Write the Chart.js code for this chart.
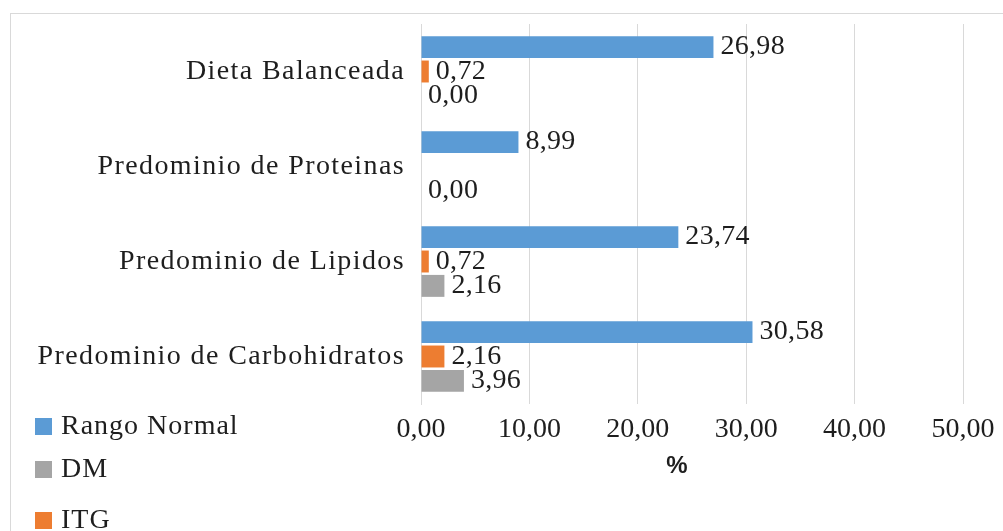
<!DOCTYPE html>
<html><head><meta charset="utf-8">
<script src="https://cdn.jsdelivr.net/npm/chart.js@4.4.1/dist/chart.umd.min.js"></script>
<style>
html,body{margin:0;padding:0;background:#fff;overflow:hidden;width:1003px;height:531px;}
#frame{position:absolute;left:10px;top:13px;width:1200px;height:800px;border:1px solid #d9d9d9;}
#wrap{position:absolute;left:0;top:0;width:1003px;height:531px;}
</style></head><body>
<div id="frame"></div>
<div id="wrap"><canvas id="c"></canvas></div>
<script>
const categories = ['Dieta Balanceada', 'Predominio de Proteinas', 'Predominio de Lipidos', 'Predominio de Carbohidratos'];
const seriesNames = ['Rango Normal', 'ITG', 'DM'];
const rangoNormal = [26.98, 8.99, 23.74, 30.58];
const itg = [0.72, null, 0.72, 2.16];
const dm = [0.00, 0.00, 2.16, 3.96];
const xTicks = [0, 10, 20, 30, 40, 50];
const axisTitle = '%';
const colors = ['#5b9bd5', '#ed7d31', '#a5a5a5'];
const legendOrder = [0, 2, 1];

const fmt = v => Number(v).toFixed(2).replace('.', ',');
const SERIF = "'Liberation Serif','Times New Roman',serif";
const TXT = '#1e1e1e';

const customPlugin = {
  id: 'custom',
  beforeDraw(chart) {
    chart.ctx.letterSpacing = '1.4px';
  },
  beforeDatasetsDraw(chart) {
    chart.ctx.letterSpacing = '0px';
  },
  afterDatasetsDraw(chart) {
    const ctx = chart.ctx;
    ctx.save();
    ctx.letterSpacing = '0.3px';
    ctx.font = '28px ' + SERIF;
    ctx.fillStyle = TXT;
    ctx.textBaseline = 'middle';
    ctx.textAlign = 'left';
    chart.data.datasets.forEach((ds, i) => {
      const meta = chart.getDatasetMeta(i);
      meta.data.forEach((el, j) => {
        const v = ds.data[j];
        if (v === null || v === undefined) return;
        ctx.fillText(fmt(v), el.x + 7, el.y);
      });
    });
    ctx.letterSpacing = '1px';
    const ys = [427, 470, 521];
    legendOrder.forEach((di, k) => {
      const ds = chart.data.datasets[di];
      ctx.fillStyle = ds.backgroundColor;
      ctx.fillRect(35, ys[k] - 9, 17, 17);
      ctx.fillStyle = TXT;
      ctx.fillText(ds.label, 61, ys[k]);
    });
    ctx.letterSpacing = '0px';
    const xs = chart.scales.x;
    ctx.font = 'bold 24px "Liberation Sans", Arial, sans-serif';
    ctx.textAlign = 'center';
    ctx.fillText(axisTitle, (xs.left + xs.right) / 2 - 15, 466);
    ctx.restore();
  }
};

new Chart(document.getElementById('c'), {
  type: 'bar',
  data: {
    labels: categories,
    datasets: [
      { label: seriesNames[0], data: rangoNormal, backgroundColor: colors[0] },
      { label: seriesNames[1], data: itg, backgroundColor: colors[1] },
      { label: seriesNames[2], data: dm, backgroundColor: colors[2] }
    ]
  },
  options: {
    indexAxis: 'y',
    responsive: true,
    maintainAspectRatio: false,
    animation: false,
    datasets: { bar: { categoryPercentage: 0.77, barPercentage: 0.9 } },
    layout: { padding: { left: 0, right: 40, top: 24, bottom: 0 } },
    plugins: { legend: { display: false }, tooltip: { enabled: false } },
    scales: {
      x: {
        min: 0, max: 50,
        afterBuildTicks(s) { s.ticks = xTicks.map(v => ({ value: v })); },
        ticks: { callback: v => fmt(v), font: { family: SERIF, size: 28 }, color: TXT, padding: 9, maxRotation: 0, z: 1 },
        grid: { color: '#d9d9d9', drawTicks: false, lineWidth: 1 },
        border: { display: false },
        afterFit(s) { s.height = 127; s.paddingLeft = 0; s.paddingRight = 0; }
      },
      y: {
        ticks: { font: { family: SERIF, size: 28 }, color: TXT, padding: 16 },
        grid: { display: false, drawTicks: false },
        border: { display: true, color: '#d9d9d9', width: 1 },
        afterFit(s) { s.width = 421; s.paddingTop = 0; s.paddingBottom = 0; }
      }
    }
  },
  plugins: [customPlugin]
});
</script>
</body></html>
